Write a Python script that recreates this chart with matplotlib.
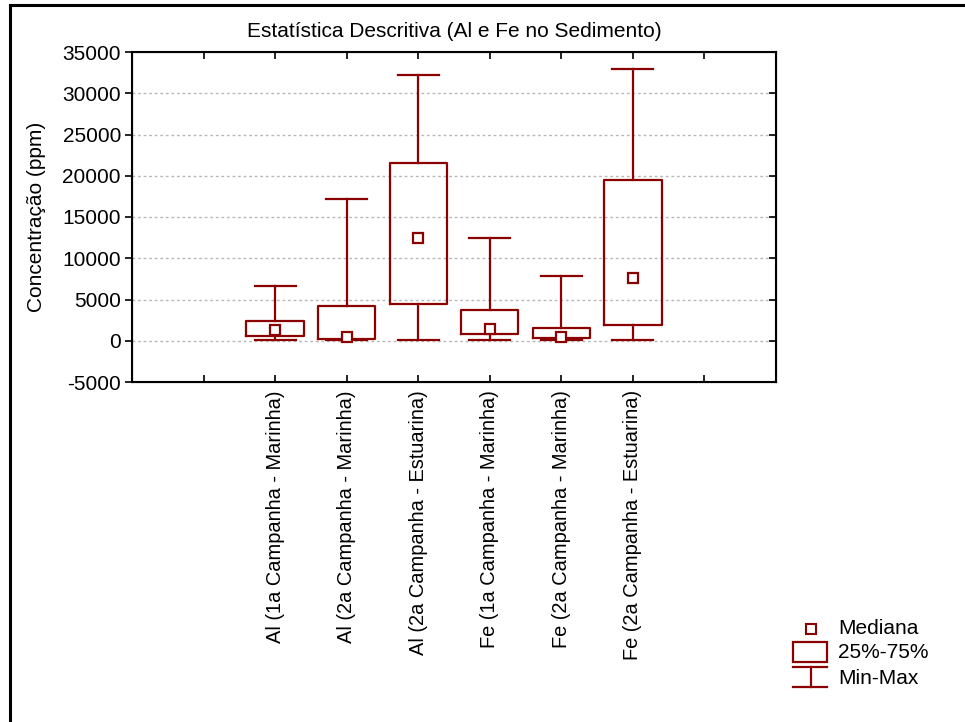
import matplotlib
matplotlib.use("Agg")
import matplotlib.pyplot as plt
from matplotlib.patches import Rectangle

plt.rcParams['font.family'] = ['Liberation Sans', 'DejaVu Sans']
plt.rcParams['axes.unicode_minus'] = False

# descriptive stats per sample group (ppm)
grupos = ['Al (1a Campanha - Marinha)', 'Al (2a Campanha - Marinha)',
          'Al (2a Campanha - Estuarina)', 'Fe (1a Campanha - Marinha)',
          'Fe (2a Campanha - Marinha)', 'Fe (2a Campanha - Estuarina)']
minimo = [90, 90, 90, 90, 50, 90]
q25 = [580, 210, 4450, 820, 330, 1870]
mediana = [1270, 500, 12420, 1460, 500, 7570]
q75 = [2360, 4250, 21580, 3730, 1500, 19520]
maximo = [6640, 17150, 32170, 12500, 7850, 32900]

cor = '#8B0000'
fs = 15

fig = plt.figure(figsize=(9.65, 7.22), dpi=100)
ax = fig.add_axes([132 / 965, 1 - 382 / 722, 644 / 965, 330 / 722])

stats = []
for i in range(len(grupos)):
    stats.append(dict(label=grupos[i], whislo=minimo[i], q1=q25[i],
                      med=mediana[i], mean=mediana[i], q3=q75[i],
                      whishi=maximo[i], fliers=[]))

pos = list(range(2, 2 + len(grupos)))
ax.bxp(stats, positions=pos, widths=0.8, capwidths=0.57,
       showmeans=True, showfliers=False,
       boxprops=dict(color=cor, linewidth=1.6),
       whiskerprops=dict(color=cor, linewidth=1.6),
       capprops=dict(color=cor, linewidth=1.6),
       medianprops=dict(linewidth=0),
       meanprops=dict(marker='s', markersize=7.5, markerfacecolor='white',
                      markeredgecolor=cor, markeredgewidth=1.6),
       zorder=3)

ax.set_xlim(0, 9)
ax.set_ylim(-5000, 35000)
ax.set_yticks(range(-5000, 35001, 5000))
ax.set_xticks(range(10))
ax.set_xticklabels([''] * 2 + grupos + [''] * 2, rotation=90, fontsize=14.4)
ax.tick_params(axis='x', direction='in', length=5, pad=6, top=True, width=1.2)
ax.tick_params(axis='y', direction='out', length=5, pad=3, labelsize=fs, width=1.2)
ax.tick_params(axis='y', which='both', right=False)
for sp in ax.spines.values():
    sp.set_linewidth(1.5)

# right-side ticks point inward
ax2 = ax.twinx()
ax2.set_ylim(ax.get_ylim())
ax2.set_yticks(range(-5000, 35001, 5000))
ax2.tick_params(axis='y', direction='in', length=5, width=1.2, labelright=False)

for yv in range(0, 30001, 5000):
    ax.axhline(yv, color='#b8b8b8', linewidth=1, linestyle=(0, (2, 2)), zorder=1)

ax.set_ylabel('Concentração (ppm)', fontsize=fs, labelpad=12)
ax.set_title('Estatística Descritiva (Al e Fe no Sedimento)', fontsize=fs, pad=11)

# legend and outer frame drawn in pixel coordinates
lax = fig.add_axes([0, 0, 1, 1], zorder=5)
lax.set_xlim(0, 965)
lax.set_ylim(722, 0)
lax.axis('off')
lax.patch.set_alpha(0)

lax.plot([10, 965], [5, 5], color='black', linewidth=2.2)
lax.plot([10, 10], [5, 722], color='black', linewidth=2.2)

lax.plot([811], [629], marker='s', markersize=6.5, markerfacecolor='white',
         markeredgecolor=cor, markeredgewidth=1.5)
lax.add_patch(Rectangle((793, 642), 34, 20, fill=False, edgecolor=cor, linewidth=1.6))
lax.plot([793, 827], [667, 667], color=cor, linewidth=1.6)
lax.plot([793, 827], [687, 687], color=cor, linewidth=1.6)
lax.plot([811, 811], [667, 687], color=cor, linewidth=1.6)
for yy, txt in zip([629, 653, 679], ['Mediana', '25%-75%', 'Min-Max']):
    lax.text(838, yy, txt, fontsize=fs, va='center', ha='left')

fig.savefig('out.png', dpi=100)
